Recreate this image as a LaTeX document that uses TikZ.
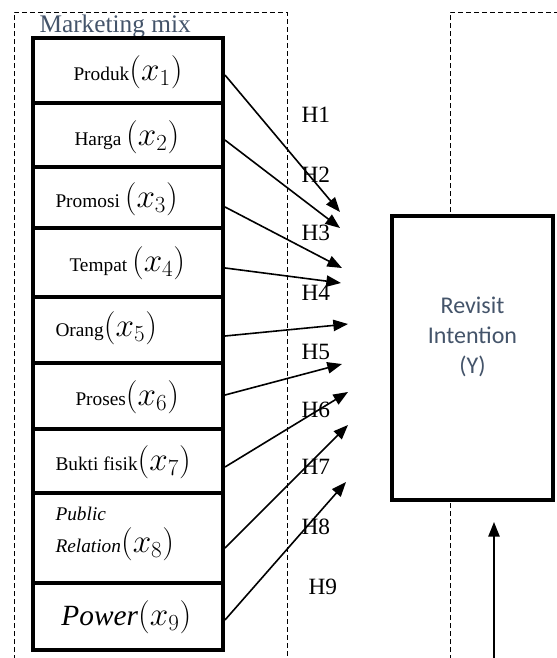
\documentclass[tikz,border=0pt]{standalone}
\usepackage{fontspec}
\setmainfont{Liberation Serif}
\newfontfamily\calibri{Carlito}
\usetikzlibrary{arrows.meta}
\definecolor{slate}{HTML}{44546A}
\newcommand{\mx}[1]{{\fontsize{23}{24}\selectfont$(x_{#1})$}}

\tikzset{every picture/.style={line width=0.75pt}}
\tikzset{
  mixbox/.style={draw, line width=3pt, fill=white, minimum width=142.5pt, inner sep=0pt},
  boxtext/.style={anchor=west, inner sep=0.75pt, font=\fontsize{14.5}{17}\selectfont},
  hlabel/.style={anchor=west, inner sep=0.75pt, font=\fontsize{17.5}{19}\selectfont},
  hyp/.style={-{Triangle[length=11pt,width=8.5pt]}, line width=1.2pt},
  frame/.style={dashed, line width=0.75pt, dash pattern=on 4pt off 2pt}
}

\begin{document}
\begin{tikzpicture}[x=0.75pt,y=0.75pt,yscale=-1,xscale=1]
\useasboundingbox (0,0) rectangle (557,658);

%Dashed frames
\draw [frame] (14,660) -- (14,12) -- (287,12) -- (287,660) ;
\draw [frame] (450,660) -- (450,12) -- (560,12) ;

% Text Node
\draw (38,26) node [anchor=west][inner sep=0.75pt] [font=\fontsize{19}{21}\selectfont, color=slate] (mixtitle) {Marketing mix};

%Shape: Rectangles (marketing mix)
\draw (128,70.5) node [mixbox, minimum height=48.75pt] (p1) {};
\draw (128,135) node [mixbox, minimum height=48pt] (p2) {};
\draw (128,197.5) node [mixbox, minimum height=45.75pt] (p3) {};
\draw (128,262.5) node [mixbox, minimum height=51.75pt] (p4) {};
\draw (128,330) node [mixbox, minimum height=49.5pt] (p5) {};
\draw (128,396) node [mixbox, minimum height=49.5pt] (p6) {};
\draw (128,461) node [mixbox, minimum height=48pt] (p7) {};
\draw (128,538) node [mixbox, minimum height=67.5pt] (p8) {};
\draw (128,616.5) node [mixbox, minimum height=50.25pt] (p9) {};

%Shape: Rectangle (revisit intention)
\draw (472.5,358) node [draw, line width=3pt, fill=white, minimum width=120.75pt, minimum height=213pt] (y) {};

% Text Node
\draw (72,72) node [boxtext] (t1) {Produk\mx{1}};
% Text Node
\draw (73,137) node [boxtext] (t2) {Harga \mx{2}};
% Text Node
\draw (54,199) node [boxtext] (t3) {Promosi \mx{3}};
% Text Node
\draw (68,263) node [boxtext] (t4) {Tempat \mx{4}};
% Text Node
\draw (54,328) node [boxtext] (t5) {Orang\mx{5}};
% Text Node
\draw (74,397) node [boxtext] (t6) {Proses\mx{6}};
% Text Node
\draw (54,462) node [boxtext] (t7) {Bukti fisik\mx{7}};
% Text Node
\draw (54,534) node [boxtext, align=left, font=\fontsize{14.5}{24}\selectfont] (t8) {\textit{Public}\\\textit{Relation}\mx{8}};
% Text Node
\draw (60,617) node [anchor=west][inner sep=0.75pt] [font=\fontsize{22}{24}\selectfont] (t9) {\textit{Power}\mx{9}};

% Text Node
\draw (472.5,337) node [inner sep=0.75pt] [align=center, font=\calibri\fontsize{18}{22.5}\selectfont, color=slate] (ytext) {Revisit\\Intention\\(Y)};

%Arrow targets
\coordinate (h1) at (340,212) ;
\coordinate (h2) at (340,228) ;
\coordinate (h3) at (342,268) ;
\coordinate (h4) at (341,283) ;
\coordinate (h5) at (348,324) ;
\coordinate (h6) at (342,364) ;
\coordinate (h7) at (348,392) ;
\coordinate (h8) at (348,425) ;
\coordinate (h9) at (346,482) ;
\coordinate (ybelow) at (494,660) ;
\coordinate (ytip) at (494,522) ;

%Straight Lines (hypotheses)
\draw [hyp] ([yshift=3.4pt]p1.east) -- (h1) ;
\draw [hyp] ([yshift=3.8pt]p2.east) -- (h2) ;
\draw [hyp] ([yshift=7.1pt]p3.east) -- (h3) ;
\draw [hyp] ([yshift=4.1pt]p4.east) -- (h4) ;
\draw [hyp] ([yshift=4.5pt]p5.east) -- (h5) ;
\draw [hyp] ([yshift=-0.75pt]p6.east) -- (h6) ;
\draw [hyp] ([yshift=4.5pt]p7.east) -- (h7) ;
\draw [hyp] ([yshift=7.5pt]p8.east) -- (h8) ;
\draw [hyp] ([yshift=2.6pt]p9.east) -- (h9) ;
\draw [hyp] (ybelow) -- (ytip) ;

% Text Node
\draw (300,115) node [hlabel] (l1) {H1};
\draw (300,175) node [hlabel] (l2) {H2};
\draw (300,233) node [hlabel] (l3) {H3};
\draw (300,293) node [hlabel] (l4) {H4};
\draw (300,352) node [hlabel] (l5) {H5};
\draw (300,410) node [hlabel] (l6) {H6};
\draw (300,467) node [hlabel] (l7) {H7};
\draw (300,527) node [hlabel] (l8) {H8};
\draw (307,587) node [hlabel] (l9) {H9};

\end{tikzpicture}
\end{document}
